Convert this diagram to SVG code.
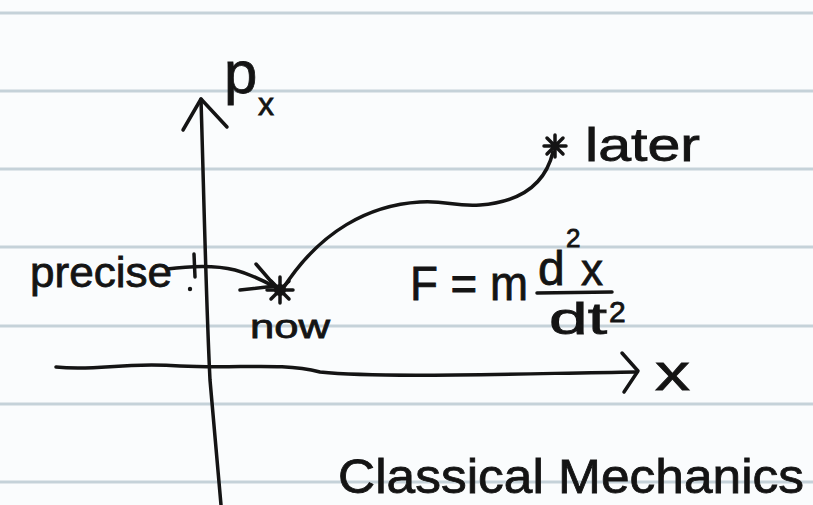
<svg xmlns="http://www.w3.org/2000/svg" width="813" height="505" viewBox="0 0 813 505">
  <style>
    .ink { fill: none; stroke: #141414; stroke-width: 3.5; stroke-linecap: round; stroke-linejoin: round; }
    .rule { stroke: #c5d2d9; stroke-width: 3; }
    .hand { font-family: "Liberation Sans", "DejaVu Sans", sans-serif; fill: #141414; stroke: #141414; stroke-width: 0.8; }
  </style>
  <rect width="813" height="505" fill="#fafcfd"/>
  <g id="paper-lines">
    <line class="rule" x1="0" y1="13" x2="813" y2="13"/>
    <line class="rule" x1="0" y1="91" x2="813" y2="91"/>
    <line class="rule" x1="0" y1="169" x2="813" y2="169"/>
    <line class="rule" x1="0" y1="247" x2="813" y2="247"/>
    <line class="rule" x1="0" y1="326" x2="813" y2="326"/>
    <line class="rule" x1="0" y1="404" x2="813" y2="404"/>
    <line class="rule" x1="0" y1="482" x2="813" y2="482"/>
  </g>
  <g id="px-axis">
    <path class="ink" d="M201 99 C204 200 206 300 210 380 L221 505"/>
    <path class="ink" d="M183 130 L201 99 L227 127"/>
    <text class="hand" x="224" y="93" font-size="60">p</text>
    <text class="hand" x="258" y="115" font-size="32">x</text>
  </g>
  <g id="x-axis">
    <path class="ink" d="M56 367 C100 371 120 362 180 366 C240 369 280 362 320 372 C380 378 500 374 636 372"/>
    <path class="ink" d="M622 353 L638 371 L624 392"/>
    <text class="hand" x="655" y="390" font-size="52" textLength="35" lengthAdjust="spacingAndGlyphs">x</text>
  </g>
  <g id="precise">
    <text class="hand" x="30" y="287" font-size="42" textLength="142" lengthAdjust="spacingAndGlyphs">precise</text>
    <line class="ink" x1="194" y1="254" x2="195" y2="277"/>
    <circle cx="190" cy="289" r="2.2" fill="#141414"/>
  </g>
  <g id="now">
    <g class="ink" stroke-width="4">
      <line x1="267" y1="290" x2="293" y2="290"/>
      <line x1="280" y1="277" x2="280" y2="303"/>
      <line x1="271" y1="281" x2="289" y2="299"/>
      <line x1="289" y1="281" x2="271" y2="299"/>
    </g>
    <circle cx="280" cy="290" r="6" fill="#141414"/>
    <text class="hand" x="250" y="338" font-size="34" textLength="80" lengthAdjust="spacingAndGlyphs">now</text>
  </g>
  <g id="later">
    <g class="ink" stroke-width="3.5">
      <line x1="544" y1="146" x2="566" y2="146"/>
      <line x1="555" y1="135" x2="555" y2="157"/>
      <line x1="547" y1="138" x2="563" y2="154"/>
      <line x1="563" y1="138" x2="547" y2="154"/>
    </g>
    <circle cx="555" cy="146" r="4" fill="#141414"/>
    <text class="hand" x="585" y="161" font-size="46" textLength="115" lengthAdjust="spacingAndGlyphs">later</text>
  </g>
  <g id="formula">
    <text class="hand" x="410" y="300" font-size="48" textLength="118" lengthAdjust="spacingAndGlyphs">F = m</text>
    <text class="hand" x="538" y="285" font-size="48">d</text>
    <text class="hand" x="566" y="247" font-size="26">2</text>
    <text class="hand" x="581" y="285" font-size="44">x</text>
    <line class="ink" x1="537" y1="293" x2="612" y2="292"/>
    <text class="hand" x="549" y="334" font-size="44" textLength="58" lengthAdjust="spacingAndGlyphs">dt</text>
    <text class="hand" x="609" y="322" font-size="30">2</text>
  </g>
  <g id="title">
    <text class="hand" x="338" y="493" font-size="48" textLength="466" lengthAdjust="spacingAndGlyphs">Classical Mechanics</text>
  </g>
  <g id="connectors">
    <path class="ink" d="M553 152 C545 185 520 202 480 205 C455 207 445 200 420 202 C370 205 320 230 282 290"/>
    <path class="ink" d="M167 269 C190 266 215 265 235 270 C250 274 262 280 275 287"/>
    <path class="ink" d="M256 264 L275 286 L240 290"/>
  </g>
</svg>
